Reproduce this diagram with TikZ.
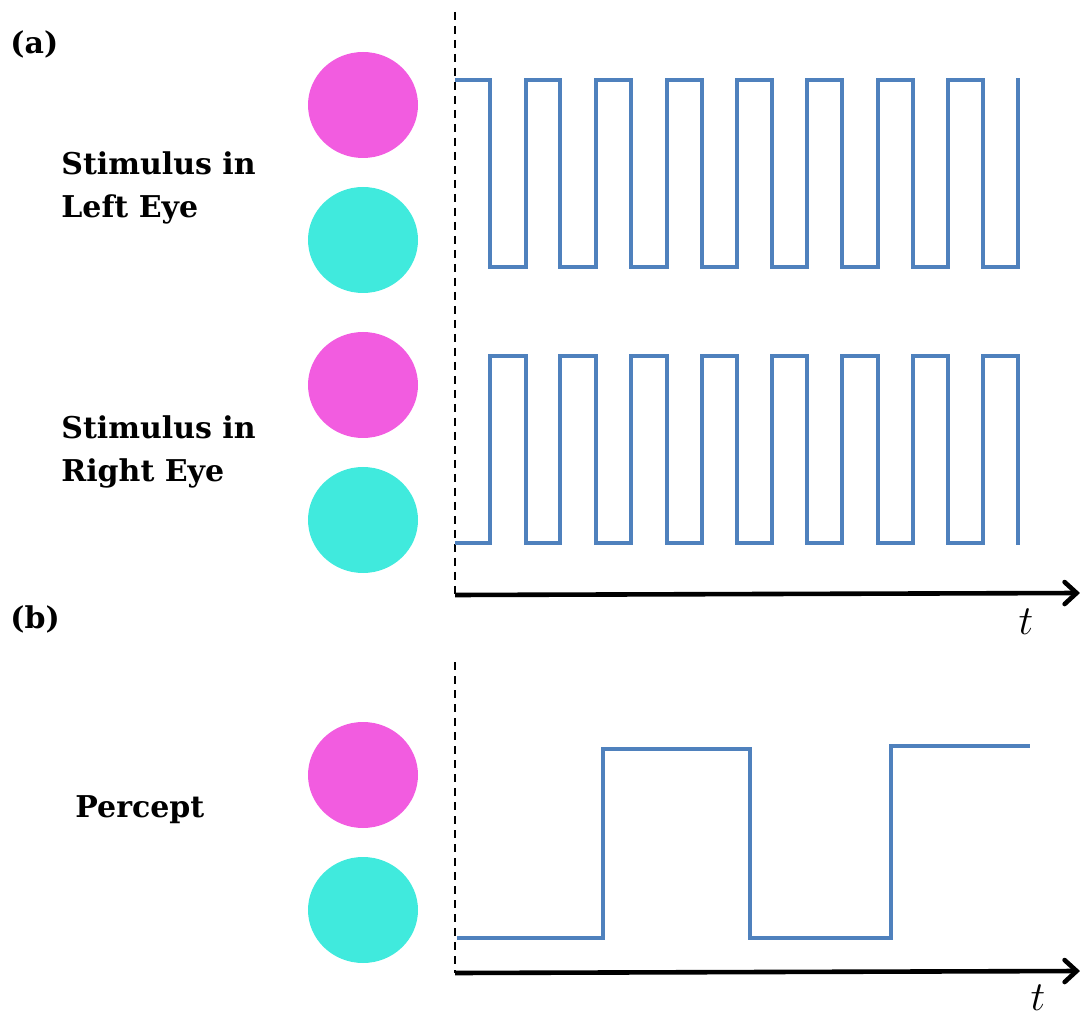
\documentclass[tikz,border=0pt]{standalone}
\usepackage{fontspec}
\setmainfont{DejaVu Serif}
\usetikzlibrary{arrows.meta}
\definecolor{wave}{HTML}{4F81BD}
\definecolor{mag}{HTML}{F25CE0}
\definecolor{cyn}{HTML}{40EADD}
\tikzset{
  px/.style={x=0.5pt,y=-0.5pt},
  wavepath/.style={draw=wave,line width=2.1pt,line join=miter},
  dashline/.style={draw=black,line width=1pt,dash pattern=on 4pt off 3pt},
  axisline/.style={draw=black,line width=2.3pt,-{Straight Barb[length=6pt,width=11pt,line cap=round]}},
  lbl/.style={font=\bfseries\fontsize{15}{21.5}\selectfont,align=left,anchor=west,inner sep=0pt},
  tlbl/.style={font=\fontsize{20}{20}\selectfont,inner sep=0pt}
}
\begin{document}
\begin{tikzpicture}[px]
\useasboundingbox (0,0) rectangle (1080,1020);
% circles
\fill[mag] (363,105) ellipse (55 and 53);
\fill[cyn] (363,240) ellipse (55 and 53);
\fill[mag] (363,385) ellipse (55 and 53);
\fill[cyn] (363,520) ellipse (55 and 53);
\fill[mag] (363,775) ellipse (55 and 53);
\fill[cyn] (363,910) ellipse (55 and 53);
% labels
\node[lbl] (la) at (10,44) {(a)};
\node[lbl] (lb) at (10,619) {(b)};
\node[lbl] (left) at (61,188) {Stimulus in\\Left Eye};
\node[lbl] (right) at (61,452) {Stimulus in\\Right Eye};
\node[lbl] (perc) at (75,810) {Percept};
% dashed lines
\coordinate (d1t) at (455,12);
\coordinate (o1) at (455,595);
\coordinate (e1) at (1080,593);
\coordinate (d2t) at (455,662);
\coordinate (o2) at (455,973);
\coordinate (e2) at (1080,971);
\draw[dashline] (d1t) -- (o1);
\draw[dashline] (d2t) -- (o2);
% axes
\draw[axisline] (o1) -- (e1);
\draw[axisline] (o2) -- (e2);
\node[tlbl] (t1) at (1026,622) {$t$};
\node[tlbl] (t2) at (1038,998) {$t$};
% left eye wave
\draw[wavepath] (455,80) -| (490,267) -| (526,80) -| (560,267) -| (596,80)
  -| (631,267) -| (667,80) -| (702,267) -| (737,80) -| (772,267) -| (807,80)
  -| (842,267) -| (878,80) -| (913,267) -| (948,80) -| (983,267) -| (1018,78);
% right eye wave
\draw[wavepath] (455,543) -| (490,356) -| (526,543) -| (560,356) -| (596,543)
  -| (631,356) -| (667,543) -| (702,356) -| (737,543) -| (772,356) -| (807,543)
  -| (842,356) -| (878,543) -| (913,356) -| (948,543) -| (983,356) -| (1018,545);
% percept
\draw[wavepath] (457,938) -| (603,749) -| (750,938) -| (891,746) -- (1030,746);
\end{tikzpicture}
\end{document}
